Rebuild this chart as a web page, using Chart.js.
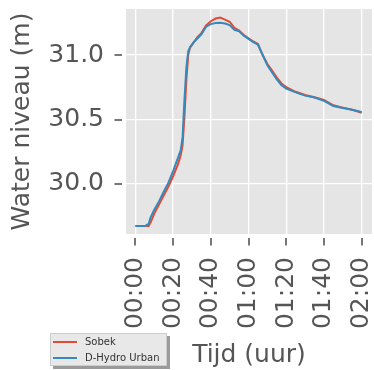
<!DOCTYPE html>
<html lang="en">
<head>
    <meta charset="UTF-8">
    <title>Water niveau</title>
    <script src="https://cdn.jsdelivr.net/npm/chart.js"></script>
    <style>
        body { margin: 0; background: #fff; }
        #wrap { width: 374px; height: 370px; }
    </style>
</head>
<body>
    <div id="wrap"><canvas id="levelChart" width="374" height="370"></canvas></div>

    <script>
        // time in minutes from 00:00
        const minutes = [0, 5, 7, 8, 10, 12.5, 15, 17.5, 20, 22.5, 24, 25, 26, 27, 28, 29, 31, 33, 35, 37.5,
            40, 42.5, 45, 47.5, 50, 52.5, 55, 57.5, 60, 62.5, 65, 67.5, 70, 72.5, 75, 77.5, 80, 85, 90, 95,
            100, 105, 110, 115, 120];
        const sobek = [29.674, 29.674, 29.674, 29.70, 29.77, 29.84, 29.91, 29.98, 30.06, 30.15, 30.22, 30.30, 30.52, 30.80, 31.00, 31.06, 31.10, 31.14, 31.17, 31.23,
            31.262, 31.283, 31.29, 31.275, 31.258, 31.21, 31.19, 31.155, 31.13, 31.105, 31.085, 31.00, 30.93, 30.88, 30.825, 30.78, 30.75, 30.715, 30.69, 30.672,
            30.652, 30.61, 30.592, 30.575, 30.553];
        const dhydro = [29.674, 29.674, 29.69, 29.74, 29.80, 29.865, 29.94, 30.01, 30.10, 30.20, 30.26, 30.36, 30.65, 30.90, 31.03, 31.06, 31.10, 31.13, 31.16, 31.22,
            31.24, 31.248, 31.25, 31.245, 31.232, 31.195, 31.185, 31.15, 31.125, 31.10, 31.08, 31.00, 30.92, 30.865, 30.81, 30.765, 30.74, 30.71, 30.685, 30.67,
            30.645, 30.605, 30.59, 30.575, 30.558];
        const xTicks = [0, 20, 40, 60, 80, 100, 120];
        const yTicks = [30.0, 30.5, 31.0];

        const toClock = m => String(Math.floor(m / 60)).padStart(2, '0') + ':' + String(m % 60).padStart(2, '0');
        const axisFont = { family: 'DejaVu Sans', size: 25 };

        // stop Chart.js from reserving room for overhanging labels
        const noPad = s => { s.paddingLeft = 0; s.paddingRight = 0; s.paddingTop = 0; s.paddingBottom = 0; };

        // grey panel behind the plot, ggplot style
        const panel = {
            id: 'panel',
            beforeDraw(chart) {
                const a = chart.chartArea, ctx = chart.ctx;
                ctx.save();
                ctx.fillStyle = '#E5E5E5';
                ctx.fillRect(a.left, a.top, a.right - a.left, a.bottom - a.top);
                ctx.restore();
            }
        };

        // outward tick marks with a small gap, plus the boxed legend bottom-left
        const extras = {
            id: 'extras',
            afterDraw(chart) {
                const ctx = chart.ctx, a = chart.chartArea;
                const xs = chart.scales.x, ys = chart.scales.y;
                ctx.save();
                ctx.strokeStyle = '#555555';
                ctx.lineWidth = 1.6;
                xTicks.forEach(v => {
                    const px = Math.round(xs.getPixelForValue(v));
                    ctx.beginPath();
                    ctx.moveTo(px, a.bottom + 4);
                    ctx.lineTo(px, a.bottom + 11.5);
                    ctx.stroke();
                });
                yTicks.forEach(v => {
                    const py = Math.round(ys.getPixelForValue(v));
                    ctx.beginPath();
                    ctx.moveTo(a.left - 4, py);
                    ctx.lineTo(a.left - 11.5, py);
                    ctx.stroke();
                });

                // legend
                const bx = 50, by = 333, bw = 117, bh = 33;
                ctx.fillStyle = '#9a9a9a';
                ctx.fillRect(bx + 3, by + 3, bw, bh);
                ctx.fillStyle = '#E8E8E8';
                ctx.fillRect(bx, by, bw, bh);
                ctx.strokeStyle = '#cccccc';
                ctx.lineWidth = 1;
                ctx.strokeRect(bx + 0.5, by + 0.5, bw - 1, bh - 1);
                ctx.font = '10px "DejaVu Sans"';
                ctx.textBaseline = 'middle';
                chart.data.datasets.forEach((ds, i) => {
                    const ly = by + 9 + i * 16;
                    ctx.strokeStyle = ds.borderColor;
                    ctx.lineWidth = 2;
                    ctx.beginPath();
                    ctx.moveTo(bx + 3, ly);
                    ctx.lineTo(bx + 27, ly);
                    ctx.stroke();
                    ctx.fillStyle = '#333333';
                    ctx.fillText(ds.label, bx + 35, ly);
                });
                ctx.restore();
            }
        };

        new Chart(document.getElementById('levelChart'), {
            type: 'line',
            data: {
                datasets: [
                    {
                        label: 'Sobek',
                        data: minutes.map((m, i) => ({ x: m, y: sobek[i] })),
                        borderColor: '#E24A33',
                        borderWidth: 2,
                        pointRadius: 0,
                        order: 2
                    },
                    {
                        label: 'D-Hydro Urban',
                        data: minutes.map((m, i) => ({ x: m, y: dhydro[i] })),
                        borderColor: '#348ABD',
                        borderWidth: 2,
                        pointRadius: 0,
                        order: 1
                    }
                ]
            },
            options: {
                responsive: false,
                animation: false,
                layout: { padding: { top: 9, right: 2, left: 0, bottom: 0 } },
                plugins: {
                    legend: { display: false },
                    tooltip: { enabled: false }
                },
                scales: {
                    x: {
                        type: 'linear',
                        min: -5,
                        max: 125.5,
                        afterBuildTicks: s => { s.ticks = xTicks.map(v => ({ value: v })); },
                        afterFit: s => { s.height = 136; noPad(s); },
                        grid: { color: '#ffffff', lineWidth: 1.3, drawTicks: false },
                        border: { display: false },
                        ticks: {
                            autoSkip: false,
                            minRotation: 90,
                            maxRotation: 90,
                            padding: 23,
                            color: '#555555',
                            font: axisFont,
                            callback: v => toClock(v)
                        },
                        title: {
                            display: true,
                            text: 'Tijd (uur)',
                            color: '#555555',
                            font: axisFont,
                            padding: { top: 0, bottom: 0 }
                        }
                    },
                    y: {
                        min: 29.612,
                        max: 31.357,
                        afterBuildTicks: s => { s.ticks = yTicks.map(v => ({ value: v })); },
                        afterFit: s => { s.width = 126; noPad(s); },
                        grid: { color: '#ffffff', lineWidth: 1.3, drawTicks: false },
                        border: { display: false },
                        ticks: {
                            padding: 22,
                            color: '#555555',
                            font: axisFont,
                            callback: v => v.toFixed(1)
                        },
                        title: {
                            display: true,
                            text: 'Water niveau (m)',
                            color: '#555555',
                            font: axisFont,
                            padding: { top: 7, bottom: 0 }
                        }
                    }
                }
            },
            plugins: [panel, extras]
        });
    </script>
</body>
</html>
